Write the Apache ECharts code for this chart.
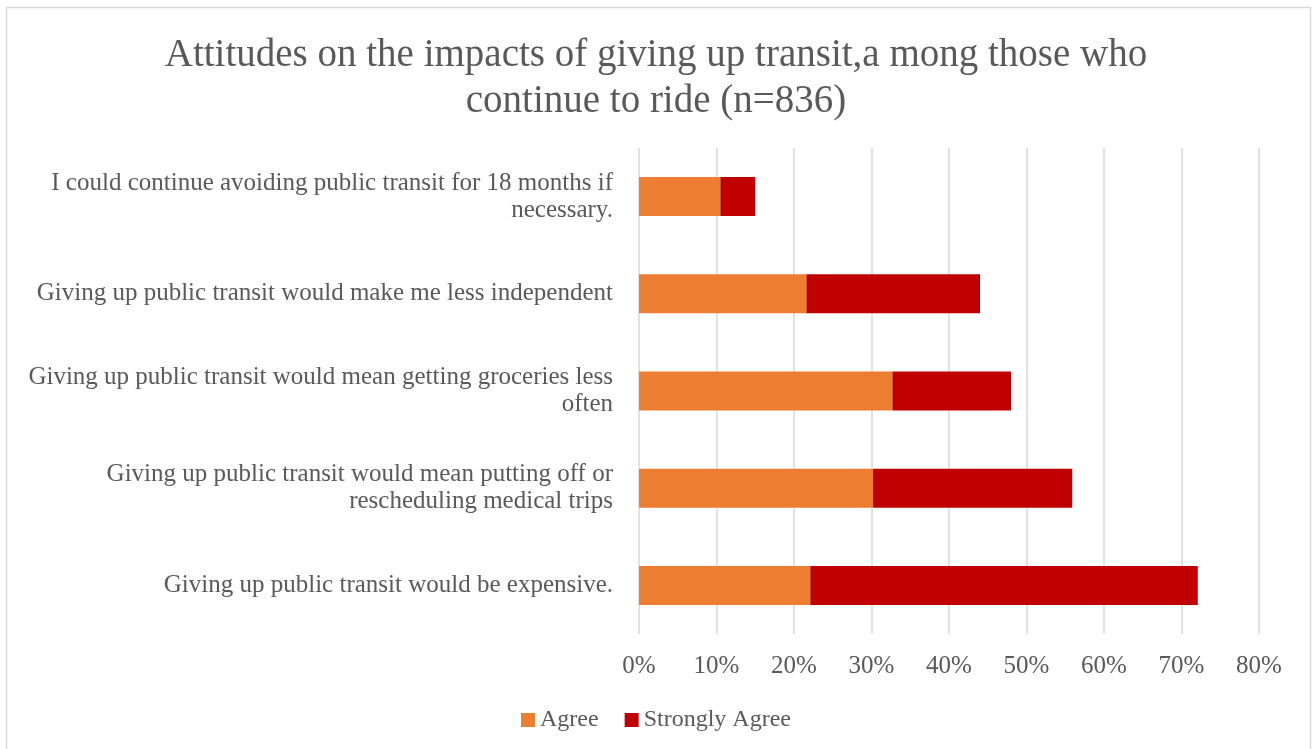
<!DOCTYPE html>
<html>
<head>
<meta charset="utf-8">
<script src="https://cdn.jsdelivr.net/npm/echarts@6/dist/echarts.min.js"></script>
<style>
  html, body { margin: 0; padding: 0; background: #ffffff; }
  #chart { width: 1312px; height: 749px; }
</style>
</head>
<body>
<div id="chart"></div>
<script>
// Survey statements, top to bottom
const categories = [
  'I could continue avoiding public transit for 18 months if\nnecessary.',
  'Giving up public transit would make me less independent',
  'Giving up public transit would mean getting groceries less\noften',
  'Giving up public transit would mean putting off or\nrescheduling medical trips',
  'Giving up public transit would be expensive.'
];
// Share of respondents (%)
const agree = [10.5, 21.6, 32.7, 30.2, 22.1];
const stronglyAgree = [4.5, 22.4, 15.3, 25.7, 50.0];
const tickValues = [0, 10, 20, 30, 40, 50, 60, 70, 80];

const FONT = 'Liberation Serif';
const TEXT = '#595959';

const chart = echarts.init(document.getElementById('chart'), null, { renderer: 'canvas' });
chart.setOption({
  backgroundColor: '#ffffff',
  animation: false,
  graphic: [{
    type: 'rect',
    shape: { x: 6.5, y: 7.5, width: 1304, height: 760 },
    style: { fill: 'none', stroke: '#d9d9d9', lineWidth: 1.5 },
    silent: true
  }],
  title: {
    text: 'Attitudes on the impacts of giving up transit,a mong those who\ncontinue to ride (n=836)',
    left: 'center',
    top: 28,
    textStyle: { fontFamily: FONT, fontSize: 39, fontWeight: 'normal', color: TEXT, lineHeight: 46 }
  },
  legend: {
    bottom: 12,
    left: 'center',
    itemWidth: 14,
    itemHeight: 14,
    itemGap: 26,
    icon: 'rect',
    textStyle: { fontFamily: FONT, fontSize: 24, color: TEXT },
    data: ['Agree', 'Strongly Agree']
  },
  grid: { left: 639, right: 53, top: 148, bottom: 115, containLabel: false },
  xAxis: {
    type: 'value',
    min: 0,
    max: 80,
    interval: 10,
    axisLine: { show: false },
    axisTick: { show: false },
    splitLine: { show: true, lineStyle: { color: '#d9d9d9', width: 1.5 } },
    axisLabel: {
      margin: 20,
      fontFamily: FONT,
      fontSize: 25,
      color: TEXT,
      formatter: v => tickValues.includes(v) ? v + '%' : ''
    }
  },
  yAxis: {
    type: 'category',
    inverse: true,
    data: categories,
    axisLine: { show: false },
    axisTick: { show: false },
    axisLabel: {
      margin: 26,
      fontFamily: FONT,
      fontSize: 25,
      color: TEXT,
      lineHeight: 27,
      align: 'right'
    }
  },
  series: [
    {
      name: 'Agree',
      type: 'bar',
      stack: 'total',
      barWidth: 39,
      itemStyle: { color: '#ED7D31' },
      data: agree
    },
    {
      name: 'Strongly Agree',
      type: 'bar',
      stack: 'total',
      barWidth: 39,
      itemStyle: { color: '#C00000' },
      data: stronglyAgree
    }
  ]
});
</script>
</body>
</html>
